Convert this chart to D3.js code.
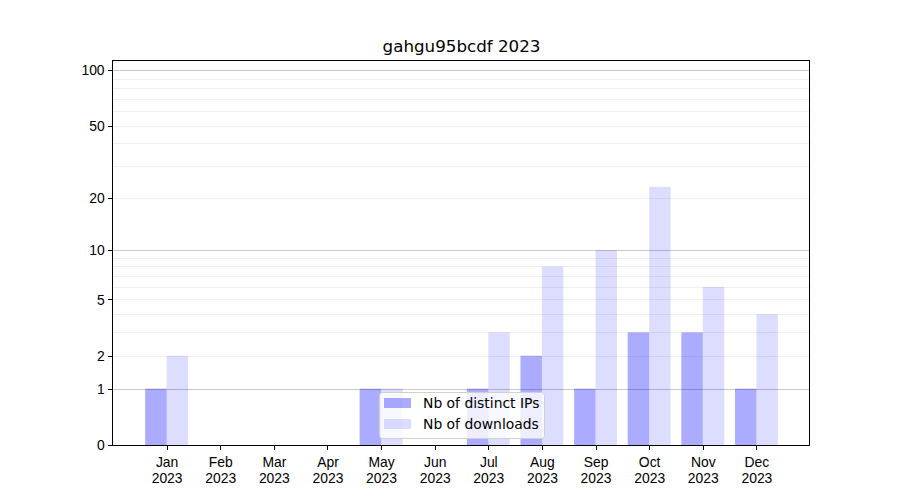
<!DOCTYPE html>
<html><head><meta charset="utf-8">
<script src="https://cdn.jsdelivr.net/npm/d3@7"></script>
<style>body{margin:0;background:#fff}svg{font-family:"DejaVu Sans",sans-serif}</style>
</head><body>
<script>
const months = ["Jan","Feb","Mar","Apr","May","Jun","Jul","Aug","Sep","Oct","Nov","Dec"];
const yearLabel = "2023";
const distinctIPs = [1,0,0,0,1,0,1,2,1,3,3,1];
const downloads = [2,0,0,0,1,0,3,8,10,23,6,4];
const yTicks = [0,1,2,5,10,20,50,100];
const majorGrid = [1,10,100];
const minorGrid = [2,3,4,5,6,7,8,9,20,30,40,50,60,70,80,90];
const title = "gahgu95bcdf 2023";
const seriesNames = ["Nb of distinct IPs","Nb of downloads"];

const W=900,H=500, L=113, R=810, T=60, B=445;
const svg = d3.select("body").append("svg").attr("width",W).attr("height",H);
const x = d3.scaleLinear().domain([-1,12]).range([L,R]);
const y = d3.scaleSymlog().constant(1).domain([0,113.3]).range([B,T]);

// grid
svg.append("g").selectAll("line").data(minorGrid).join("line")
  .attr("x1",L).attr("x2",R).attr("y1",d=>Math.round(y(d))+0.5).attr("y2",d=>Math.round(y(d))+0.5)
  .attr("stroke","#ebebeb").attr("stroke-width",0.8);
svg.append("g").selectAll("line").data(majorGrid).join("line")
  .attr("x1",L).attr("x2",R).attr("y1",d=>Math.round(y(d))+0.5).attr("y2",d=>Math.round(y(d))+0.5)
  .attr("stroke","#c8c8c8").attr("stroke-width",1);

const bw = 0.4;
svg.append("g").selectAll("rect").data(distinctIPs).join("rect")
  .attr("x",(d,i)=>x(i-bw)).attr("width",(d,i)=>x(i)-x(i-bw))
  .attr("y",d=>y(d)).attr("height",d=>B-y(d))
  .attr("fill","blue").attr("fill-opacity",0.33);
svg.append("g").selectAll("rect").data(downloads).join("rect")
  .attr("x",(d,i)=>x(i)).attr("width",(d,i)=>x(i+bw)-x(i))
  .attr("y",d=>y(d)).attr("height",d=>B-y(d))
  .attr("fill","blue").attr("fill-opacity",0.135);

// axes
const xAxis = d3.axisBottom(x).tickValues(d3.range(12)).tickSizeOuter(0).tickSize(4.9).tickFormat(()=>"");
const gx = svg.append("g").attr("transform",`translate(0,${B})`).call(xAxis);
gx.select(".domain").remove();
gx.selectAll(".tick line").attr("stroke","#000").attr("stroke-width",1).attr("shape-rendering","crispEdges");
gx.selectAll(".tick").each(function(d){
  const t = d3.select(this).append("text").attr("fill","#000").attr("font-size","13.9px").attr("text-anchor","middle");
  t.append("tspan").attr("x",0).attr("y",21.5).text(months[d]);
  t.append("tspan").attr("x",0).attr("y",37.5).text(yearLabel);
});
const yAxis = d3.axisLeft(y).tickValues(yTicks).tickSize(4.9).tickSizeOuter(0).tickFormat(d3.format("d"));
const gy = svg.append("g").attr("transform",`translate(${L},0)`).call(yAxis);
gy.select(".domain").remove();
gy.selectAll(".tick line").attr("stroke","#000").attr("stroke-width",1).attr("shape-rendering","crispEdges");
gy.selectAll(".tick text").attr("font-size","13.9px").attr("fill","#000").attr("x",-8.4).attr("dy","0.33em");

svg.append("rect").attr("x",L-0.5).attr("y",T+0.5).attr("width",R-L).attr("height",B-T)
  .attr("fill","none").attr("stroke","#000").attr("stroke-width",1.1).attr("shape-rendering","crispEdges");

svg.append("text").attr("x",(L+R)/2).attr("y",52).attr("text-anchor","middle")
  .attr("font-size","16.7px").attr("fill","#000").text(title);

// legend
const lg = svg.append("g");
lg.append("rect").attr("x",379.5).attr("y",392.5).attr("width",165).attr("height",46).attr("rx",3)
  .attr("fill","#fff").attr("fill-opacity",0.8).attr("stroke","#d0d0d0").attr("stroke-width",1);
const ops=[0.33,0.135];
seriesNames.forEach((s,i)=>{
  lg.append("rect").attr("x",384).attr("y",398+i*21).attr("width",27).attr("height",10)
    .attr("fill","blue").attr("fill-opacity",ops[i]);
  lg.append("text").attr("x",423).attr("y",408+i*21).attr("font-size","13.9px").attr("fill","#000").text(s);
});
</script>
</body></html>
